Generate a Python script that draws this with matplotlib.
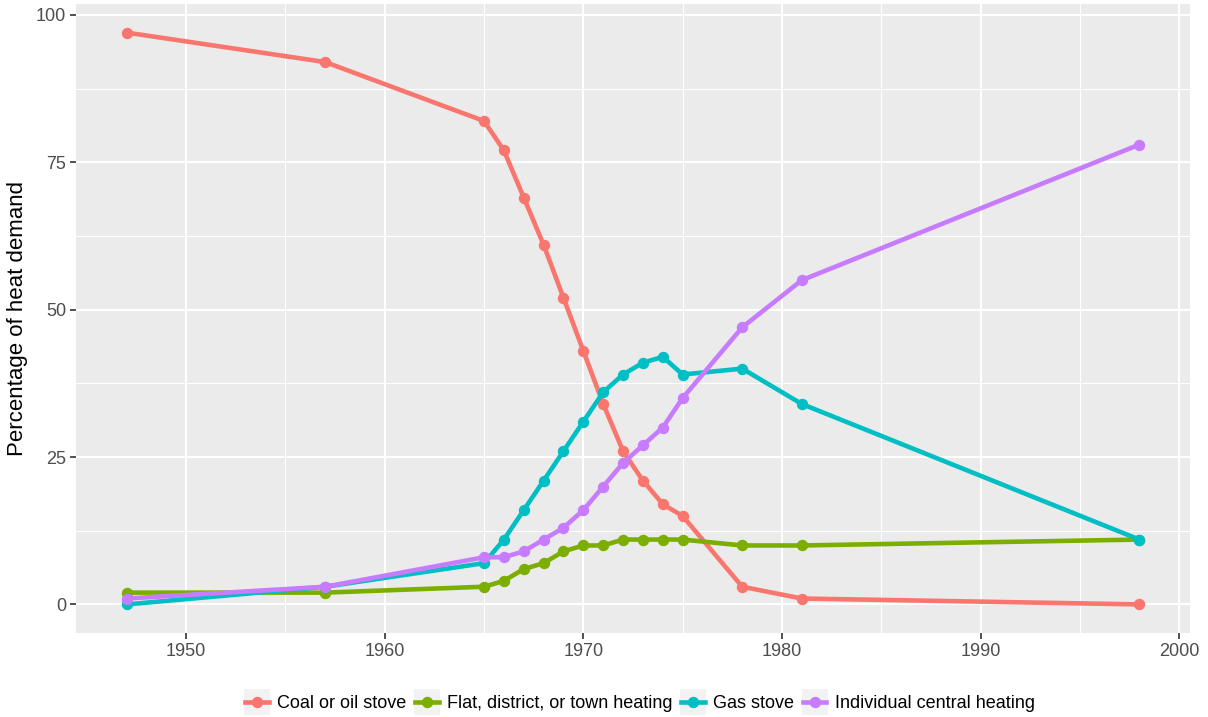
import matplotlib
matplotlib.use("Agg")
import matplotlib.pyplot as plt
from matplotlib.lines import Line2D
from matplotlib.patches import Rectangle
from matplotlib.legend_handler import HandlerLine2D
import numpy as np

plt.rcParams['font.family'] = ['Liberation Sans', 'DejaVu Sans']

years = [1947, 1957, 1965, 1966, 1967, 1968, 1969, 1970, 1971, 1972,
         1973, 1974, 1975, 1978, 1981, 1998]
coal = [97, 92, 82, 77, 69, 61, 52, 43, 34, 26, 21, 17, 15, 3, 1, 0]
flat = [2, 2, 3, 4, 6, 7, 9, 10, 10, 11, 11, 11, 11, 10, 10, 11]
gas = [0, 3, 7, 11, 16, 21, 26, 31, 36, 39, 41, 42, 39, 40, 34, 11]
central = [1, 3, 8, 8, 9, 11, 13, 16, 20, 24, 27, 30, 35, 47, 55, 78]

series_names = ["Coal or oil stove", "Flat, district, or town heating",
                "Gas stove", "Individual central heating"]
series_vals = [coal, flat, gas, central]
colors = ["#F8766D", "#7CAE00", "#00BFC4", "#C77CFF"]

x_ticks = [1950, 1960, 1970, 1980, 1990, 2000]
y_ticks = [0, 25, 50, 75, 100]

LW = 3.3
MS = 7.2

fig = plt.figure(figsize=(12.08, 7.17), dpi=100)
ax = fig.add_axes([76/1208, 1-633/717, (1190-76)/1208, (633-4)/717])
ax.set_facecolor("#EBEBEB")

for name, vals, c in zip(series_names, series_vals, colors):
    ax.plot(years, vals, color=c, lw=LW, marker='o', ms=MS, label=name,
            solid_joinstyle='round', zorder=3)

xmin, xmax = min(years), max(years)
xr = xmax - xmin
ax.set_xlim(xmin - 0.05*xr, xmax + 0.05*xr)
allv = coal + flat + gas + central
ymin, ymax = min(allv), max(allv)
yr = ymax - ymin
ax.set_ylim(ymin - 0.05*yr, ymax + 0.05*yr)

ax.set_xticks(x_ticks)
ax.set_yticks(y_ticks)
ax.set_xticks([1955, 1965, 1975, 1985, 1995], minor=True)
ax.set_yticks([12.5, 37.5, 62.5, 87.5], minor=True)
ax.grid(which='major', color='white', lw=1.5, zorder=0)
ax.grid(which='minor', color='white', lw=0.75, zorder=0)
ax.set_axisbelow(True)
for s in ax.spines.values():
    s.set_visible(False)
ax.tick_params(which='major', length=4, width=1.2, color='#333333',
               labelcolor='#4D4D4D', labelsize=13, pad=3)
ax.tick_params(which='minor', length=0)
ax.set_ylabel("Percentage of heat demand", fontsize=16, color='black', labelpad=6)


class KeyHandler(HandlerLine2D):
    def create_artists(self, legend, orig_handle, xdescent, ydescent,
                       width, height, fontsize, trans):
        size = width + 2
        cx = -xdescent + width / 2
        cy = -ydescent + height / 2
        rect = Rectangle((cx - size/2, cy - size/2), size, size,
                         facecolor='#F2F2F2', edgecolor='none', transform=trans)
        arts = super().create_artists(legend, orig_handle, xdescent, ydescent,
                                      width, height, fontsize, trans)
        return [rect] + arts


handles = [Line2D([], [], color=c, lw=LW, marker='o', ms=MS) for c in colors]
fig.legend(handles, series_names, loc='center', bbox_to_anchor=(640/1208, 1-704/717),
           ncol=4, frameon=False, fontsize=13, handlelength=1.3, handletextpad=0.45,
           columnspacing=0.5, handler_map={Line2D: KeyHandler(numpoints=1)})

fig.savefig("out.png", dpi=100)
